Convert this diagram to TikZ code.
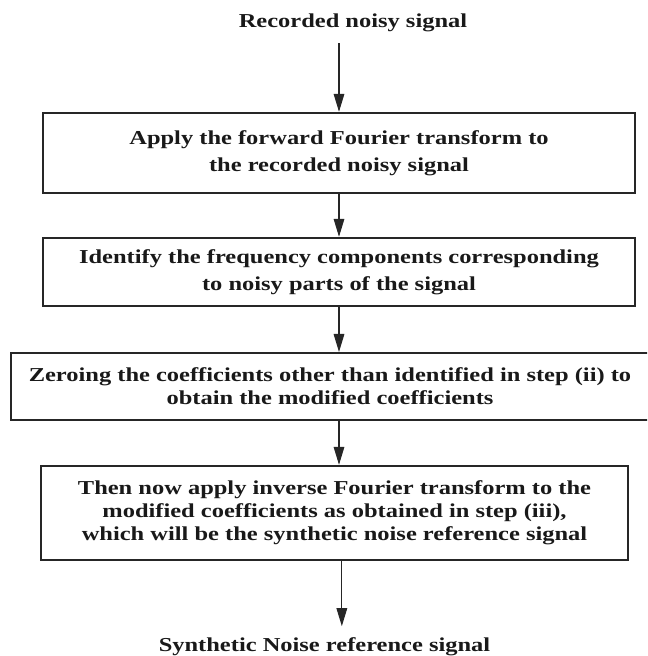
\documentclass[tikz,border=0pt]{standalone}
\usepackage{fontspec}
\setmainfont{Liberation Serif}[FakeStretch=1.24]
\usetikzlibrary{arrows.meta, positioning}

\begin{document}
\begin{tikzpicture}[x=0.75pt, y=-0.75pt, >={Triangle[length=13.5pt, width=8pt]},
    stepbox/.style={draw=black!85, line width=1.8pt, align=center, text=black!90,
        font=\bfseries\fontsize{14.8}{20.5}\selectfont, inner sep=0pt},
    tight/.style={font=\bfseries\fontsize{14.8}{17.3}\selectfont},
    term/.style={text=black!90, font=\bfseries\fontsize{14.8}{17.3}\selectfont, inner sep=8pt},
    flow/.style={->, black!85, line width=0.8pt}]

        \clip (0,0) rectangle (647,656);

        \node[term, anchor=base] (rec) at (353,28) {Recorded noisy signal};

        \node[stepbox, minimum width=444pt, minimum height=60pt] (fwd) at (339,153)
            {Apply the forward Fourier transform to\\the recorded noisy signal};
        \node[stepbox, minimum width=444pt, minimum height=51pt] (ident) at (339,272)
            {Identify the frequency components corresponding\\to noisy parts of the signal};
        \node[stepbox, tight, minimum width=478.5pt, minimum height=50pt] (zero) at (330,386.5)
            {Zeroing the coefficients other than identified in step (ii) to\\obtain the modified coefficients};
        \node[stepbox, tight, minimum width=440pt, minimum height=70.5pt] (inv) at (334.5,513)
            {Then now apply inverse Fourier transform to the\\modified coefficients as obtained in step (iii),\\which will be the synthetic noise reference signal};

        \node[term, anchor=base] (syn) at (324.5,651) {Synthetic Noise reference signal};

        \draw[flow] (fwd.north |- rec.south) -- (fwd.north);
        \draw[flow] (fwd.south) -- (ident.north);
        \draw[flow] (ident.south) -- (ident.south |- zero.north);
        \draw[flow] (ident.south |- zero.south) -- (ident.south |- inv.north);
        \draw[flow] ([xshift=5.5pt]inv.south) -- ([xshift=5.5pt]inv.south |- syn.north);

    \end{tikzpicture}
\end{document}
